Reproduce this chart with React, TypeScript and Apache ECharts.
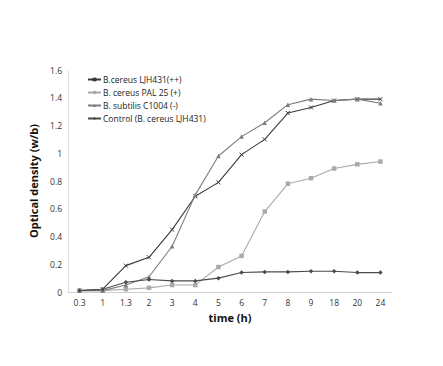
import React, { useEffect, useRef } from "react";
import * as echarts from "echarts";

const categories = ["0.3", "1", "1.3", "2", "3", "4", "5", "6", "7", "8", "9", "18", "20", "24"];
const ljh431 = [0.01, 0.02, 0.19, 0.25, 0.45, 0.69, 0.79, 0.99, 1.1, 1.29, 1.33, 1.38, 1.39, 1.39];
const pal25 = [0.01, 0.01, 0.02, 0.03, 0.05, 0.05, 0.18, 0.26, 0.58, 0.78, 0.82, 0.89, 0.92, 0.94];
const c1004 = [0.01, 0.01, 0.05, 0.11, 0.33, 0.7, 0.98, 1.12, 1.22, 1.35, 1.39, 1.38, 1.39, 1.36];
const control = [0.01, 0.02, 0.07, 0.09, 0.08, 0.08, 0.1, 0.14, 0.145, 0.145, 0.15, 0.15, 0.14, 0.14];
const seriesNames = ["B.cereus LJH431(++)", "B. cereus PAL 25 (+)", "B. subtilis C1004 (-)", "Control (B. cereus LJH431)"];
const yTicks = [0, 0.2, 0.4, 0.6, 0.8, 1, 1.2, 1.4, 1.6];

const FONT = "'Open Sans', 'Liberation Sans', sans-serif";

export default function App() {
  const ref = useRef<HTMLDivElement>(null);
  useEffect(() => {
    const chart = echarts.init(ref.current!, null, { renderer: "svg" });
    const mk = (name: string, data: number[], color: string, symbol: string, size: number, lw: number, hollow = false) => ({
      name,
      type: "line",
      data,
      symbol,
      symbolSize: size,
      showSymbol: true,
      lineStyle: { color, width: lw },
      itemStyle: hollow
        ? { color: "transparent", borderColor: color, borderWidth: 1 }
        : { color, borderColor: color, borderWidth: 0 },
      emphasis: { disabled: true },
    });
    chart.setOption({
      animation: false,
      backgroundColor: "#ffffff",
      textStyle: { fontFamily: FONT },
      grid: { left: 68, right: 51, top: 70, bottom: 74, containLabel: false },
      legend: {
        orient: "vertical",
        left: 82,
        top: 70,
        itemGap: 4,
        itemWidth: 13,
        itemHeight: 4,
        textStyle: { fontSize: 8.5, color: "#222", fontFamily: FONT, padding: [0, 0, 0, -3] },
        data: seriesNames,
      },
      xAxis: {
        type: "category",
        data: categories,
        boundaryGap: true,
        name: "time (h)",
        nameLocation: "middle",
        nameGap: 20,
        nameTextStyle: { fontSize: 11, fontWeight: "bold", color: "#111", fontFamily: FONT },
        axisLine: { lineStyle: { color: "#d0d0d0", width: 1 } },
        axisTick: { show: false },
        axisLabel: { fontSize: 8.5, color: "#333", margin: 6 },
        splitLine: { show: false },
      },
      yAxis: {
        type: "value",
        min: 0,
        max: 1.6,
        interval: 0.2,
        name: "Optical density (w/b)",
        nameLocation: "middle",
        nameGap: 27,
        nameTextStyle: { fontSize: 11, fontWeight: "bold", color: "#111", fontFamily: FONT },
        axisLine: { show: true, lineStyle: { color: "#e0e0e0", width: 1 } },
        axisTick: { show: false },
        axisLabel: {
          fontSize: 8.5,
          color: "#333",
          margin: 6,
          formatter: (v: number) => {
            const t = yTicks.find((x) => Math.abs(x - v) < 1e-6);
            return t === undefined ? "" : String(t);
          },
        },
        splitLine: { show: false },
      },
      series: [
        mk(seriesNames[0], ljh431, "#3a3a3a", "path://M0,0L10,10M10,0L0,10", 4, 1.1, true),
        mk(seriesNames[1], pal25, "#aaaaaa", "rect", 4.5, 1.1),
        mk(seriesNames[2], c1004, "#7c7c7c", "triangle", 4.5, 1.1),
        mk(seriesNames[3], control, "#4a4a4a", "diamond", 4.5, 1.1),
      ],
    });
    return () => chart.dispose();
  }, []);
  return <div ref={ref} style={{ width: 443, height: 366, position: "absolute", left: 0, top: 0 }} />;
}
